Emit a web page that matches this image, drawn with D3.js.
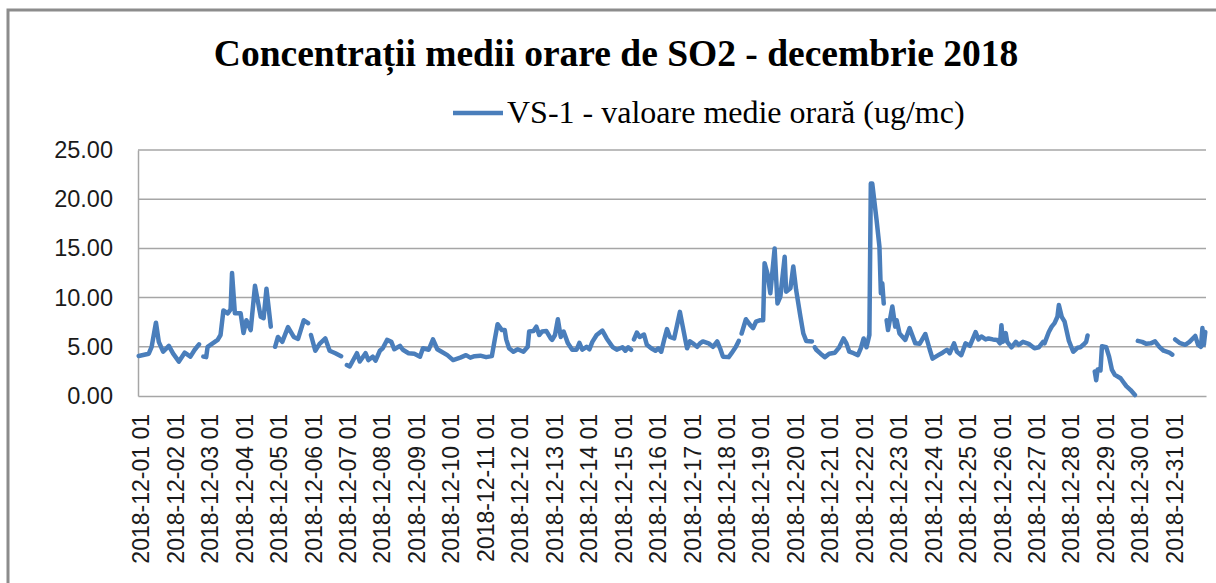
<!DOCTYPE html>
<html>
<head>
<meta charset="utf-8">
<script src="https://d3js.org/d3.v7.min.js"></script>
<style>
  body { margin: 0; background: #fff; }
  svg { display: block; }
</style>
</head>
<body>
<script>
/* chart texts */
var chartTitle = "Concentrații medii orare de SO2 - decembrie 2018";
var seriesName = "VS-1 - valoare medie orară (ug/mc)";

/* y axis ticks and x axis days (label sits on hour 01 of each day) */
var yTicks = [0, 5, 10, 15, 20, 25];
var days = d3.range(1, 32);
var hoursInMonth = 744;

/* [hour index from 2018-12-01 01, value], null = missing hours (line breaks) */
var so2Points = [
  [0,4.07],[7,4.3],[9,5.0],[12,7.45],[14,5.5],[17,4.5],[21,5.1],[24,4.3],[28,3.5],[32,4.4],[36,4.0],[39,4.7],[42,5.25],
  [44,null],
  [45,4.0],[47,3.95],[48,5.0],[51,5.3],[55,5.7],[57,6.2],[59,8.7],[62,8.4],[64,8.8],[65,12.5],[67,8.4],[71,8.4],[73,6.4],
  [75,7.7],[78,6.7],[81,11.2],[85,8.05],[87,7.9],[89,10.9],[92,7.05],
  [94,null],
  [95,5.0],[97,6.0],[100,5.5],[104,7.0],[108,6.0],[111,5.8],[115,7.7],[118,7.4],
  [119,null],
  [120,6.2],[123,4.6],[126,5.3],[130,5.85],[133,4.6],[137,4.35],[141,4.05],
  [143,null],
  [145,3.15],[147,3.0],[152,4.35],[154,3.5],[158,4.35],[160,3.65],[163,4.0],[165,3.6],[168,4.6],[170,4.85],[173,5.7],
  [176,5.5],[178,4.75],[182,5.1],[184,4.7],[188,4.35],[192,4.3],[196,4.0],[198,4.85],[202,4.7],[205,5.75],[208,4.75],
  [211,4.5],[215,4.15],[219,3.65],[224,3.9],[228,4.15],[231,3.9],[234,4.05],[238,4.1],[242,3.95],[246,4.05],[248,5.7],
  [250,7.3],[253,6.7],[255,6.7],[256,5.75],[258,4.85],[261,4.5],[264,4.75],[268,4.5],[271,5.0],[272,6.55],[275,6.6],
  [277,7.05],[279,6.2],[281,6.55],[284,6.6],[287,5.85],[288,5.7],[290,6.2],[292,7.8],[294,6.0],[296,6.55],[299,5.35],
  [302,4.7],[305,4.7],[307,5.4],[309,4.7],[312,5.0],[314,4.75],[316,5.5],[319,6.2],[323,6.65],[326,5.85],[330,5.0],
  [333,4.7],[337,4.95],[339,4.6],[341,4.95],[343,4.7],
  [344,null],
  [345,5.75],[347,6.45],[349,6.0],[352,6.25],[354,5.2],[357,4.85],[360,4.6],[362,4.85],[364,4.5],[366,5.7],[368,6.8],
  [370,6.0],[373,5.85],[375,7.2],[377,8.55],[379,7.05],[381,5.55],[382,4.85],[384,5.55],[386,5.35],[389,5.0],[391,5.35],
  [393,5.55],[397,5.35],[400,5.0],[403,5.55],[405,4.85],[407,4.0],[411,3.95],[413,4.35],[416,5.0],[418,5.6],
  [419,null],
  [420,6.35],[423,7.8],[426,7.2],[428,6.9],[430,7.55],[433,7.7],[435,7.7],[436,13.5],[438,12.45],[440,10.45],[443,15.0],
  [444,12.1],[445,9.4],[447,10.1],[450,14.15],[451,10.6],[454,10.95],[456,13.15],[458,10.75],[461,8.05],[463,6.35],
  [465,5.6],[469,5.55],
  [470,null],
  [471,4.95],[472,4.7],[475,4.3],[478,3.95],[481,4.3],[485,4.4],[488,4.95],[491,5.85],[493,5.35],[495,4.5],[498,4.35],
  [501,4.15],[503,4.85],[505,5.85],[507,4.95],[509,6.2],[510,21.6],[511,21.6],[514,17.9],[516,15.2],[517,10.45],
  [518,11.45],[519,9.4],
  [520,null],
  [521,7.7],[522,6.7],[525,9.1],[527,7.05],[528,7.7],[530,6.35],[534,5.7],[537,6.9],[541,5.35],[544,5.3],[548,6.3],
  [551,4.75],[553,3.8],[557,4.15],[560,4.4],[563,4.7],[565,4.35],[568,5.35],[570,4.5],[573,4.15],[576,5.35],[579,5.1],
  [583,6.5],[585,5.75],[587,6.05],[590,5.75],[592,5.85],[595,5.75],[598,5.7],[600,5.35],[601,7.2],[602,5.5],[604,6.4],
  [605,5.5],[608,4.95],[611,5.5],[613,5.2],[616,5.5],[620,5.3],[624,4.85],[627,4.95],[630,5.5],[631,5.35],[634,6.5],
  [636,7.05],[638,7.4],[640,8.05],[641,9.25],[643,8.05],[645,7.55],[648,5.6],[651,4.5],[654,4.9],[656,4.95],[658,5.2],
  [660,5.5],[661,6.15],
  [663,null],
  [666,2.5],[667,1.6],[668,2.7],[670,2.6],[671,5.05],[674,4.95],[676,4.0],[678,2.65],[680,2.15],[684,1.8],[686,1.4],
  [688,1.0],[691,0.6],[694,0.1],
  [695,null],
  [696,5.6],[699,5.5],[702,5.3],[705,5.35],[708,5.55],[711,5.0],[714,4.6],[718,4.4],[720,4.2],
  [721,null],
  [722,5.75],[725,5.4],[729,5.2],[732,5.5],[736,6.1],[738,5.2],[740,5.0],[741,6.9],[742,5.2],[743,6.5]
];

var width = 1216;
var height = 583;
var plot = {left: 138, right: 1206, top: 150, bottom: 396};
var lineColor = "#4a7ebb";
var gridColor = "#a6a6a6";

var svg = d3.select("body").append("svg")
    .attr("width", width)
    .attr("height", height);

/* outer frame of the chart object (runs off the right and bottom edges) */
svg.append("rect")
    .attr("x", 8).attr("y", 10)
    .attr("width", width + 20).attr("height", height + 20)
    .attr("fill", "#fff")
    .attr("stroke", "#8c8c8c")
    .attr("stroke-width", 3);

/* scales: one category slot per hour */
var xScale = d3.scaleLinear()
    .domain([-0.5, hoursInMonth - 0.5])
    .range([plot.left, plot.right]);

var yScale = d3.scaleLinear()
    .domain([0, 25])
    .range([plot.bottom, plot.top]);

/* horizontal gridlines */
svg.append("g")
    .selectAll("line")
    .data(yTicks.filter(function(d) { return d > 0; }))
    .enter()
    .append("line")
    .attr("x1", plot.left).attr("x2", plot.right)
    .attr("y1", function(d) { return yScale(d); })
    .attr("y2", function(d) { return yScale(d); })
    .attr("stroke", gridColor)
    .attr("stroke-width", 1.5);

/* y axis: labels only, plus the vertical axis line */
var yAxis = d3.axisLeft(yScale)
    .tickValues(yTicks)
    .tickSize(0)
    .tickPadding(25)
    .tickFormat(d3.format(".2f"));

var gy = svg.append("g")
    .attr("transform", "translate(" + plot.left + ",0)")
    .call(yAxis);
gy.select(".domain").attr("stroke", gridColor).attr("stroke-width", 1.5);
gy.selectAll("text")
    .attr("font-family", "'Liberation Sans', Arial, sans-serif")
    .attr("font-size", "23.5px")
    .attr("fill", "#1a1a1a");

/* x axis: one label per day at hour 01, rotated */
var xAxis = d3.axisBottom(xScale)
    .tickValues(days.map(function(d) { return (d - 1) * 24; }))
    .tickSize(0)
    .tickFormat(function(h) {
        var day = h / 24 + 1;
        return "2018-12-" + (day < 10 ? "0" + day : day) + " 01";
    });

var gx = svg.append("g")
    .attr("transform", "translate(0," + plot.bottom + ")")
    .call(xAxis);
gx.select(".domain").attr("stroke", gridColor).attr("stroke-width", 1.5);
gx.selectAll("text")
    .attr("font-family", "'Liberation Sans', Arial, sans-serif")
    .attr("font-size", "23px")
    .attr("fill", "#1a1a1a")
    .attr("text-anchor", "end")
    .attr("transform", "rotate(-90)")
    .attr("x", -18)
    .attr("y", 2)
    .attr("dy", "0.35em");

/* the series line, broken where hours are missing */
var line = d3.line()
    .defined(function(d) { return d[1] !== null; })
    .x(function(d) { return xScale(d[0]); })
    .y(function(d) { return yScale(d[1]); });

svg.append("path")
    .datum(so2Points)
    .attr("d", line)
    .attr("fill", "none")
    .attr("stroke", lineColor)
    .attr("stroke-width", 4.5)
    .attr("stroke-linejoin", "round")
    .attr("stroke-linecap", "round");

/* title */
svg.append("text")
    .attr("x", 616)
    .attr("y", 66)
    .attr("text-anchor", "middle")
    .attr("font-family", "'Liberation Serif', 'Times New Roman', serif")
    .attr("font-weight", "bold")
    .attr("font-size", "37.5px")
    .attr("fill", "#000")
    .text(chartTitle);

/* legend */
svg.append("line")
    .attr("x1", 453).attr("x2", 503)
    .attr("y1", 113).attr("y2", 113)
    .attr("stroke", lineColor)
    .attr("stroke-width", 4.5);

svg.append("text")
    .attr("x", 507)
    .attr("y", 123)
    .attr("font-family", "'Liberation Serif', 'Times New Roman', serif")
    .attr("font-size", "32px")
    .attr("fill", "#000")
    .text(seriesName);
</script>
</body>
</html>
